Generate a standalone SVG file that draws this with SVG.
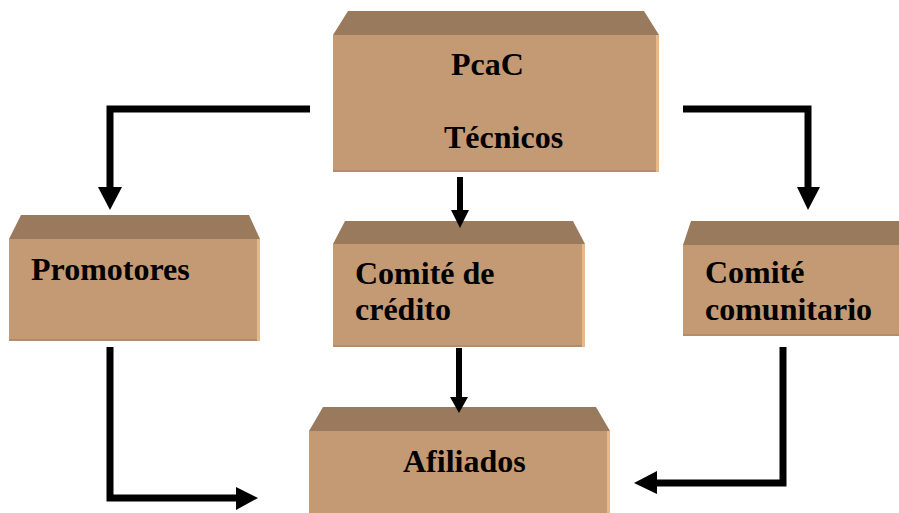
<svg xmlns="http://www.w3.org/2000/svg" width="899" height="513" viewBox="0 0 899 513">
<style>
.top{fill:#9a7a5c}
.front{fill:#c49a74}
.edge{fill:#e8b888}
.base{fill:#b48c6a}
.lbl{font-family:"Liberation Serif","Times New Roman",serif;font-weight:bold;font-size:32px;fill:#000}
.ln{fill:none;stroke:#000;stroke-width:7;stroke-linecap:butt;stroke-linejoin:miter}
.ln2{fill:none;stroke:#000;stroke-width:6;stroke-linecap:butt}
.hd{fill:#000}
</style>
<rect width="899" height="513" fill="#fff"/>
<g id="pcac">
<polygon class="top" points="348,11 644,11 659,35 333,35"/>
<rect class="front" x="333" y="35" width="326" height="137"/>
<rect class="edge" x="656" y="35" width="3" height="137"/>
<rect class="base" x="333" y="170" width="323" height="2"/>
<text class="lbl" x="451" y="75">PcaC</text>
<text class="lbl" x="444" y="148">Técnicos</text>
</g>
<g id="promotores">
<polygon class="top" points="21,215 249,215 260,239 9,239"/>
<rect class="front" x="9" y="239" width="251" height="102"/>
<rect class="edge" x="257" y="239" width="3" height="102"/>
<rect class="base" x="9" y="339" width="248" height="2"/>
<text class="lbl" x="31" y="280">Promotores</text>
</g>
<g id="credito">
<polygon class="top" points="345,221 573,221 585,244 333,244"/>
<rect class="front" x="333" y="244" width="252" height="103"/>
<rect class="edge" x="582" y="244" width="3" height="103"/>
<rect class="base" x="333" y="345" width="249" height="2"/>
<text class="lbl" x="355" y="284">Comité de</text>
<text class="lbl" x="355" y="320">crédito</text>
</g>
<g id="comunitario">
<polygon class="top" points="691,221 910,221 910,245 683,245"/>
<rect class="front" x="683" y="245" width="227" height="91"/>
<rect class="base" x="683" y="334" width="227" height="2"/>
<text class="lbl" x="705" y="283">Comité</text>
<text class="lbl" x="705" y="320">comunitario</text>
</g>
<g id="afiliados">
<polygon class="top" points="323,407 596,407 610,431 309,431"/>
<rect class="front" x="309" y="431" width="301" height="90"/>
<rect class="edge" x="607" y="431" width="3" height="90"/>
<text class="lbl" x="403" y="472">Afiliados</text>
</g>
<g id="connectors">
<path class="ln" d="M310,109 H110 V188"/>
<polygon class="hd" points="98,187 122,187 110,210"/>
<path class="ln" d="M683,109 H808 V188"/>
<polygon class="hd" points="797,187 820,187 808,210"/>
<path class="ln2" d="M460,177 V211"/>
<polygon class="hd" points="451,210 469,210 460,228"/>
<path class="ln2" d="M459,348 V398"/>
<polygon class="hd" points="450,397 468,397 459,413"/>
<path class="ln" d="M110,347 V498 H237"/>
<polygon class="hd" points="236,487 236,510 258,498"/>
<path class="ln" d="M783,347 V483 H656"/>
<polygon class="hd" points="657,471 657,494 634,483"/>
</g>
</svg>
